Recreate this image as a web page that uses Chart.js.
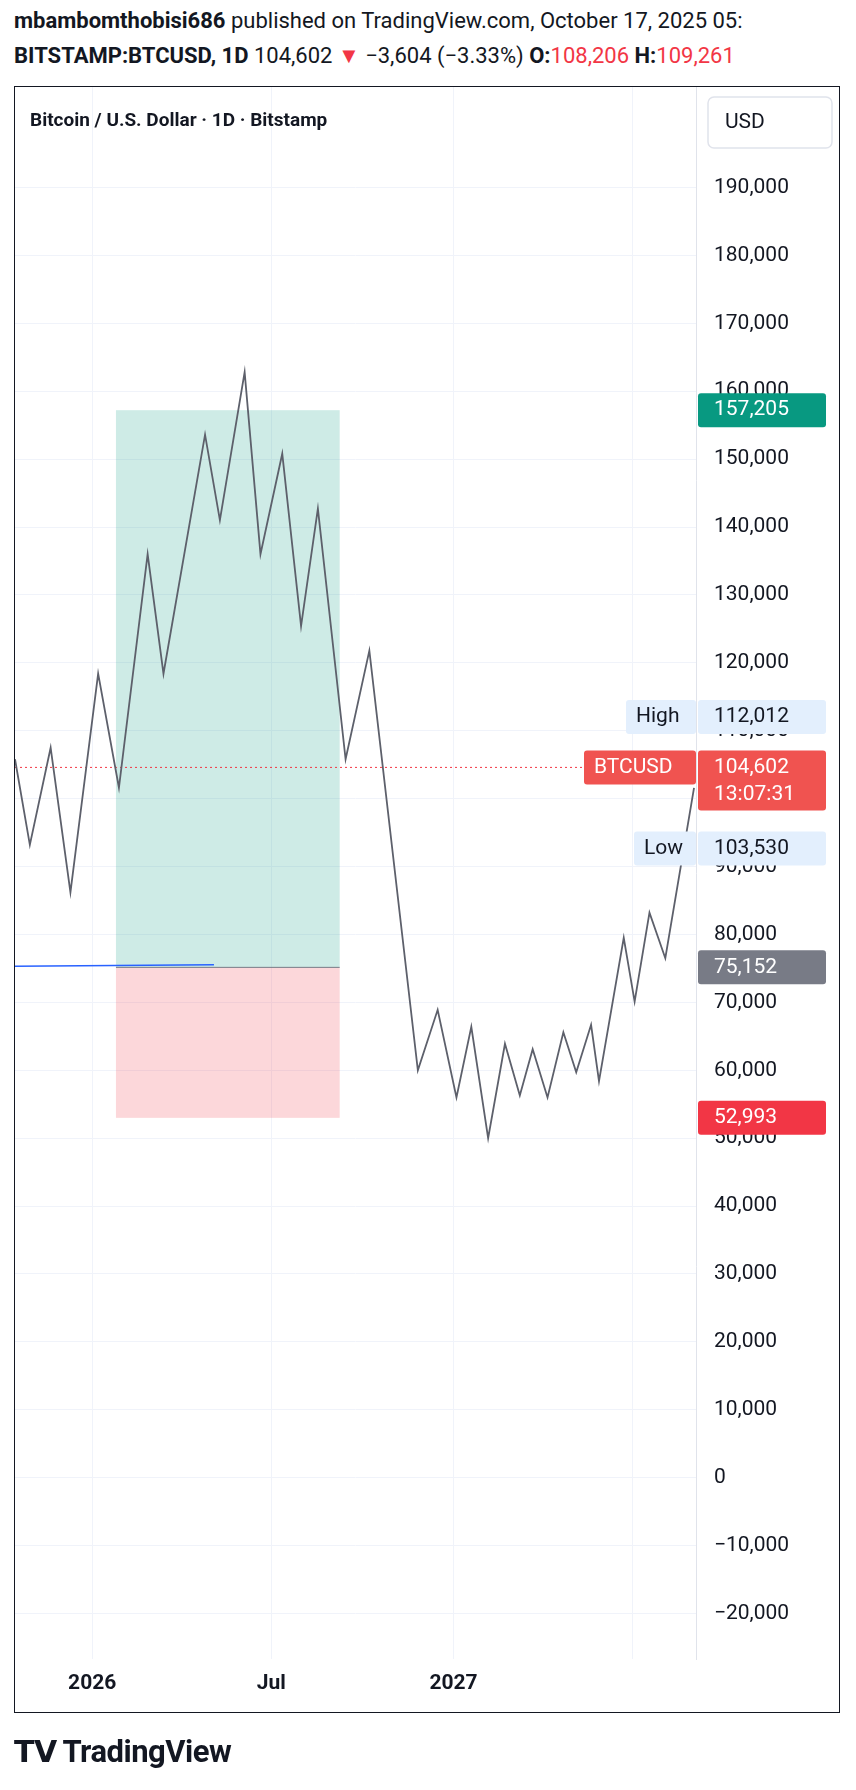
<!DOCTYPE html>
<html><head><meta charset="utf-8">
<script src="https://cdn.jsdelivr.net/npm/chart.js@4"></script>
<style>
body{margin:0;width:856px;height:1790px;background:#fff;font-family:Roboto,"Open Sans",sans-serif;overflow:hidden;position:relative}
.h{position:absolute;left:14px;white-space:nowrap;font-size:22px;color:#131722}
#frame{position:absolute;left:14px;top:86px;width:826px;height:1627px;border:1.5px solid #131722;box-sizing:border-box;pointer-events:none}
canvas{position:absolute;left:0;top:0}
</style></head><body>
<div class="h" style="top:8px"><b>mbambomthobisi686</b> published on TradingView.com, October 17, 2025 05:</div>
<div class="h" style="top:43px"><b>BITSTAMP:BTCUSD, 1D</b> 104,602 <span style="color:#f23645">▼</span> −3,604 (−3.33%) <b>O:</b><span style="color:#f23645">108,206</span> <b>H:</b><span style="color:#f23645">109,261</span></div>
<canvas id="c" width="856" height="1790"></canvas>
<div id="frame"></div>
<div class="h" style="top:1733px;font-size:31px;font-weight:bold;letter-spacing:-0.5px">
<span style="font-size:30px">𝗧𝗩</span> TradingView</div>
<script>
const days = [-78,-63,-42,-22,6,27,56,72,114,129,154,170,192,211,228,256,280,329,349,368,383,400,417,432,445,460,476,489,504,512,537,548,563,579,608];
const prices = [105800,93200,107500,86200,118400,101600,136000,118400,153600,141000,162800,136000,150800,125400,142700,105800,121800,60000,68900,56000,66400,50000,63900,56300,63100,56000,65600,59700,66700,58400,79500,70100,83200,76500,101600];
const xTicks = {0:"2026",181:"Jul",365:"2027"};
const target = 157205, entry = 75152, stop = 52993, lastPrice = 104602, high = 112012, low = 103530;
const zoneStart = 24, zoneEnd = 250, blueStart = -78, blueEnd = 123, blueVal = 75300;

const overlay = {
  id:'ov',
  beforeDatasetsDraw(ch){
    const {ctx,scales:{x,y},chartArea:a}=ch;
    ctx.save();
    ctx.fillStyle='rgba(8,153,129,0.2)';
    ctx.fillRect(x.getPixelForValue(zoneStart),y.getPixelForValue(target),x.getPixelForValue(zoneEnd)-x.getPixelForValue(zoneStart),y.getPixelForValue(entry)-y.getPixelForValue(target));
    ctx.fillStyle='rgba(242,54,69,0.2)';
    ctx.fillRect(x.getPixelForValue(zoneStart),y.getPixelForValue(entry),x.getPixelForValue(zoneEnd)-x.getPixelForValue(zoneStart),y.getPixelForValue(stop)-y.getPixelForValue(entry));
    ctx.strokeStyle='#787b86';ctx.lineWidth=1;
    ctx.beginPath();ctx.moveTo(x.getPixelForValue(zoneStart),y.getPixelForValue(entry));ctx.lineTo(x.getPixelForValue(zoneEnd),y.getPixelForValue(entry));ctx.stroke();
    ctx.strokeStyle='#2962ff';ctx.lineWidth=1.5;
    ctx.beginPath();ctx.moveTo(x.getPixelForValue(blueStart),y.getPixelForValue(blueVal));ctx.lineTo(x.getPixelForValue(blueEnd),y.getPixelForValue(blueVal+250));ctx.stroke();
    ctx.strokeStyle='#f23645';ctx.setLineDash([2,3]);ctx.lineWidth=1;
    ctx.beginPath();ctx.moveTo(a.left,y.getPixelForValue(lastPrice));ctx.lineTo(a.right,y.getPixelForValue(lastPrice));ctx.stroke();
    ctx.restore();
  },
  afterDraw(ch){
    const {ctx,scales:{x,y},chartArea:a}=ch;
    ctx.save();
    ctx.font='bold 19px Roboto';ctx.fillStyle='#131722';ctx.textBaseline='middle';
    ctx.fillText('Bitcoin / U.S. Dollar · 1D · Bitstamp',30,121);
    ctx.strokeStyle='#e0e3eb';ctx.lineWidth=1.5;
    ctx.beginPath();ctx.roundRect(708,97,124,51,6);ctx.stroke();
    ctx.font='21px Roboto';ctx.fillText('USD',725,123);
    const L=a.right+2, W=128, H=34;
    function boxAt(py,bg,fg,txt){
      ctx.fillStyle=bg;ctx.beginPath();ctx.roundRect(L,py-H/2,W,H,3);ctx.fill();
      ctx.fillStyle=fg;ctx.font='21px Roboto';ctx.fillText(txt,L+16,py);
    }
    function lblAt(py,bg,fg,txt,w){
      ctx.fillStyle=bg;ctx.beginPath();ctx.roundRect(a.right-w,py-H/2,w,H,3);ctx.fill();
      ctx.fillStyle=fg;ctx.font='21px Roboto';ctx.fillText(txt,a.right-w+10,py);
    }
    const box=(v,bg,fg,t)=>boxAt(y.getPixelForValue(v),bg,fg,t);
    box(target,'#089981','#fff','157,205');
    const hy=y.getPixelForValue(high);
    boxAt(hy,'#e3effd','#131722','112,012');lblAt(hy,'#e3effd','#131722','High',70);
    const py=y.getPixelForValue(lastPrice);
    const ly=py+H/2+60-H/2+H/2+4;
    boxAt(ly,'#e3effd','#131722','103,530');lblAt(ly,'#e3effd','#131722','Low',62);
    ctx.fillStyle='#f05350';ctx.beginPath();ctx.roundRect(L,py-H/2,W,60,3);ctx.fill();
    ctx.fillStyle='#fff';ctx.font='21px Roboto';ctx.fillText('104,602',L+16,py);ctx.fillText('13:07:31',L+16,py+27);
    lblAt(py,'#f05350','#fff','BTCUSD',112);
    box(entry,'#787b86','#fff','75,152');
    box(stop,'#f23645','#fff','52,993');
    ctx.restore();
  }
};

new Chart(document.getElementById('c'),{
  type:'line',
  data:{datasets:[{data:days.map((d,i)=>({x:d,y:prices[i]})),borderColor:'#5d606b',borderWidth:1.8,pointRadius:0,tension:0}]},
  options:{
    responsive:false,animation:false,
    layout:{padding:{left:15,top:87,right:16,bottom:77}},
    plugins:{legend:{display:false},tooltip:{enabled:false}},
    scales:{
      x:{type:'linear',min:-78,max:610,
        afterBuildTicks(s){s.ticks=[0,181,365,546].map(v=>({value:v}));},
        afterFit(s){s.height=54;},
        grid:{color:'#f0f3fa',drawTicks:false},border:{display:false},
        ticks:{callback:v=>xTicks[v]||'',color:'#131722',font:{size:21,family:'Roboto',weight:'bold'},padding:12,maxRotation:0}},
      y:{position:'right',min:-26700,max:204800,
        afterBuildTicks(s){const t=[];for(let v=-20000;v<=190000;v+=10000)t.push({value:v});s.ticks=t;},
        afterFit(s){s.width=144;},
        grid:{color:'#f0f3fa',drawTicks:false},border:{color:'#e0e3eb'},
        ticks:{callback:v=>v<0?'−'+Math.abs(v).toLocaleString('en-US'):v.toLocaleString('en-US'),color:'#131722',font:{size:21,family:'Roboto'},padding:18}}
    }
  },
  plugins:[overlay]
});
</script>
</body></html>
